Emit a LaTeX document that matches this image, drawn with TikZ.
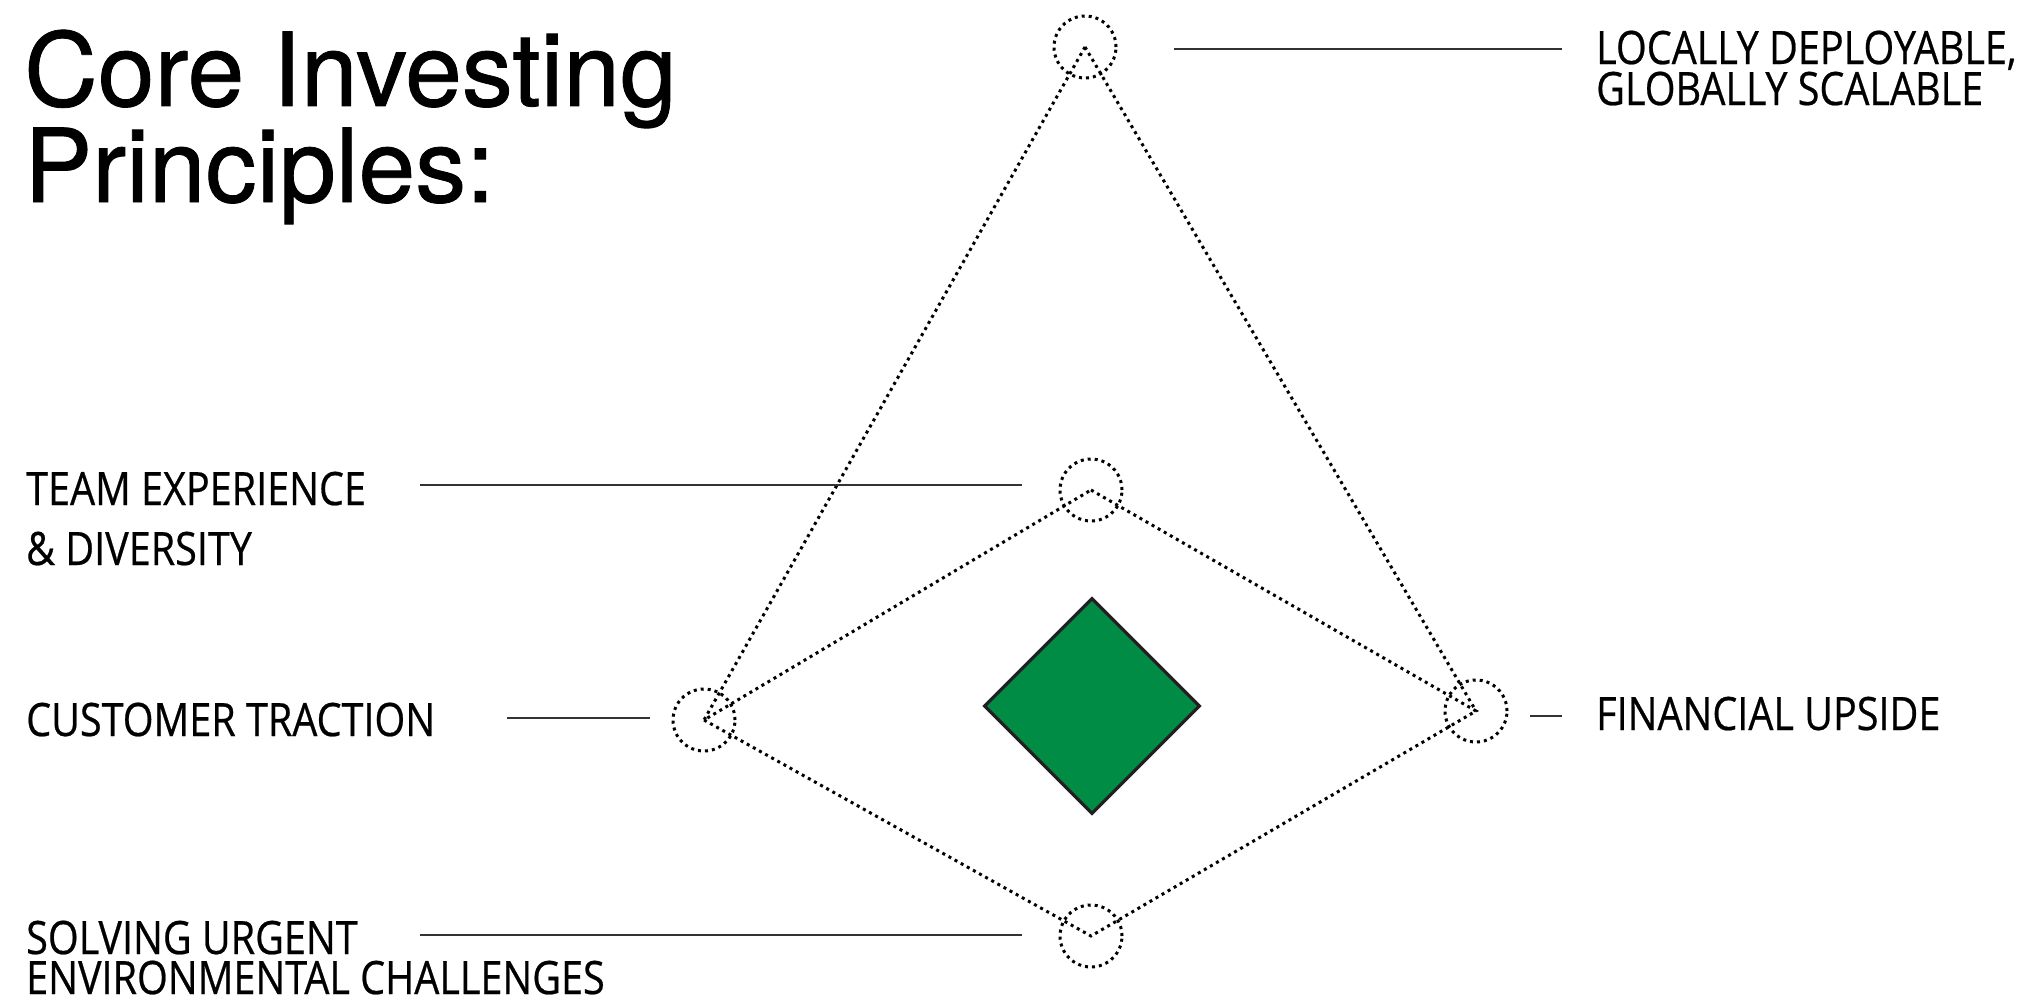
\documentclass[tikz,border=0pt]{standalone}
\usepackage{fontspec}
\setmainfont{Open Sans}
\newfontfamily\titlefont[FakeBold=0.8]{TeX Gyre Heros}
\newfontfamily\labelfont[FakeStretch=0.86,FakeBold=0.5]{Open Sans}
\usetikzlibrary{shapes.geometric}
\definecolor{leafgreen}{HTML}{008C44}
\definecolor{edgeink}{HTML}{231F20}
\begin{document}
\begin{tikzpicture}[x=1pt,y=-1pt,
  dots/.style={line width=3pt, dash pattern=on 3pt off 4pt, black},
  ring/.style={circle, draw, dots, minimum size=62pt, inner sep=0pt},
  leader/.style={line width=1.6pt, black!80},
  lbl/.style={anchor=base west, inner sep=0pt, font=\labelfont\fontsize{46}{46}\selectfont},
  ttl/.style={anchor=base west, inner sep=0pt, font=\titlefont\fontsize{102}{102}\selectfont}]
\useasboundingbox (0,0) rectangle (2019,998);
% title
\node[ttl] (t1) at (24,106) {Core Investing};
\node[ttl] (t2) at (24,202) {Principles:};
% rings
\node[ring] (top) at (1085,47) {};
\node[ring] (mid) at (1091,490) {};
\node[ring] (left) at (704,720) {};
\node[ring] (right) at (1476,711) {};
\node[ring] (bot) at (1091,936) {};
% dotted frame
\draw[dots] (top.center) -- (left.center);
\draw[dots] (top.center) -- (right.center);
\draw[dots] (mid.center) -- (right.center) -- (bot.center) -- (left.center) -- cycle;
% core diamond
\node[diamond, draw=edgeink, fill=leafgreen, line width=3.2pt, minimum width=216pt,
      minimum height=216pt, inner sep=0pt, aspect=1] (core) at (1092,706) {};
% labels
\node[lbl] (l1a) at (1596,64) {LOCALLY DEPLOYABLE,};
\node[lbl] (l1b) at (1596,105) {GLOBALLY SCALABLE};
\node[lbl] (l2a) at (26,505) {TEAM EXPERIENCE};
\node[lbl] (l2b) at (26,565) {\& DIVERSITY};
\node[lbl] (l3) at (26,736) {CUSTOMER TRACTION};
\node[lbl] (l4) at (1596,730) {FINANCIAL UPSIDE};
\node[lbl] (l5a) at (26,954) {SOLVING URGENT};
\node[lbl] (l5b) at (26,994) {ENVIRONMENTAL CHALLENGES};
% leaders
\coordinate (a1) at (1174,49);  \coordinate (a2) at (1562,49);
\coordinate (b1) at (420,485);  \coordinate (b2) at (1022,485);
\coordinate (c1) at (507,718);  \coordinate (c2) at (650,718);
\coordinate (d1) at (1530,716); \coordinate (d2) at (1562,716);
\coordinate (e1) at (420,935);  \coordinate (e2) at (1022,935);
\draw[leader] (a1) -- (a2);
\draw[leader] (b1) -- (b2);
\draw[leader] (c1) -- (c2);
\draw[leader] (d1) -- (d2);
\draw[leader] (e1) -- (e2);
\end{tikzpicture}
\end{document}
